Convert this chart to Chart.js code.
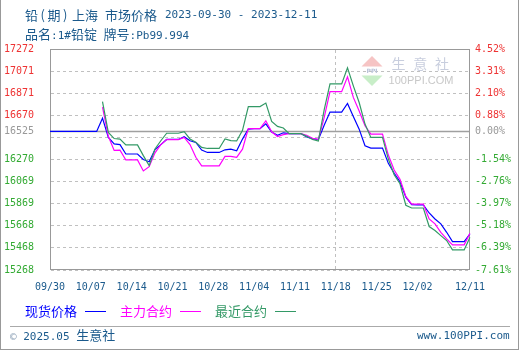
<!DOCTYPE html>
<html>
<head>
<meta charset="utf-8">
<title>铅(期) 上海 市场价格</title>
<script src="https://cdn.jsdelivr.net/npm/chart.js@4.4.0/dist/chart.umd.min.js"></script>
<style>
  html, body { margin: 0; padding: 0; background: #fff; }
  #wrap { position: relative; width: 520px; height: 350px; overflow: hidden; }
  #frame { position: absolute; left: 0; top: 0; width: 517px; height: 349px; border: 1px solid #999; border-top: none; }
  #chart { position: absolute; left: 0; top: 0; }
  .txt { position: absolute; white-space: nowrap; line-height: 16px; color: #1b5a8c;
         font-family: 'DejaVu Sans Mono', monospace; font-size: 11px; }
  .cjk { font-family: 'Noto Sans CJK SC', sans-serif; font-size: 13px; }
  .key { position: absolute; height: 1px; width: 21px; top: 311px; }
  #sep { position: absolute; left: 10px; top: 326px; width: 500px; height: 1px; background: #aaa; }
</style>
</head>
<body>
<div id="wrap">
  <div id="frame"></div>
  <canvas id="chart" width="520" height="350"></canvas>

  <div class="txt cjk" style="left:25px; top:7px; letter-spacing:2.5px;">铅(期)</div>
  <div class="txt cjk" style="left:72px; top:7px;">上海</div>
  <div class="txt cjk" style="left:105px; top:7px;">市场价格</div>
  <div class="txt" style="left:165px; top:7px;">2023-09-30 - 2023-12-11</div>
  <div class="txt" style="left:25px; top:26px;"><span class="cjk">品名</span>:1#<span class="cjk">铅锭</span> <span class="cjk">牌号</span>:Pb99.994</div>

  <!-- legend: name first, then a short line sample -->
  <div class="txt cjk" style="left:25px; top:303px; color:#0000ff;">现货价格</div>
  <div class="key" style="left:85px; background:#0000ff;"></div>
  <div class="txt cjk" style="left:120px; top:303px; color:#ff00ff;">主力合约</div>
  <div class="key" style="left:180px; background:#ff00ff;"></div>
  <div class="txt cjk" style="left:215px; top:303px; color:#339966;">最近合约</div>
  <div class="key" style="left:275px; background:#339966;"></div>

  <div id="sep"></div>
  <div class="txt" style="left:10px; top:327px;"><span style="color:#8fa3b8;">©</span> 2025.05 <span class="cjk">生意社</span></div>
  <div class="txt" style="left:417px; top:328px;">www.100PPI.com</div>
</div>

<script>
// price axis range and labels (top to bottom); row 4 sits on the base price
const yMin = 15268;
const yMax = 17272;
const basePrice = 16525;
const priceLabels = ['17272', '17071', '16871', '16670', '16525', '16270', '16069', '15869', '15668', '15468', '15268'];
const pctLabels = ['4.52%', '3.31%', '2.10%', '0.88%', '0.00%', '-1.54%', '-2.76%', '-3.97%', '-5.18%', '-6.39%', '-7.61%'];
const baseRow = 4;

// one category per calendar day, 2023-09-30 .. 2023-12-11
const days = [];
for (let i = 0; i <= 72; i++) {
    const d = new Date(2023, 8, 30 + i);
    days.push(String(d.getMonth() + 1).padStart(2, '0') + '/' + String(d.getDate()).padStart(2, '0'));
}

// 现货价格 (spot)
const spotPrice = [
    16525, 16525, 16525, 16525, 16525, 16525, 16525, 16525, 16525, 16645,
    16470, 16411, 16405, 16320, 16320, 16320, 16270, 16250, 16360, 16405,
    16452, 16452, 16452, 16477, 16440, 16425, 16355, 16334, 16334, 16334,
    16358, 16364, 16349, 16455, 16546, 16550, 16550, 16593, 16520, 16490,
    16512, 16505, 16505, 16505, 16475, 16460, 16450, 16580, 16700, 16700,
    16700, 16778, 16660, 16545, 16395, 16374, 16374, 16374, 16235, 16145,
    16068, 15928, 15860, 15858, 15858, 15785, 15731, 15686, 15610, 15526,
    15526, 15526, 15595
];

// 主力合约 (main contract)
const mainContract = [
    null, null, null, null, null, null, null, null, null, 16745,
    16480, 16352, 16355, 16266, 16266, 16266, 16166, 16205, 16330, 16405,
    16450, 16450, 16450, 16470, 16405, 16290, 16213, 16213, 16213, 16213,
    16298, 16298, 16289, 16364, 16550, 16550, 16550, 16621, 16521, 16478,
    16495, 16505, 16505, 16505, 16490, 16462, 16452, 16650, 16885, 16885,
    16885, 17020, 16833, 16710, 16576, 16500, 16500, 16500, 16310, 16175,
    16090, 15935, 15866, 15866, 15866, 15731, 15686, 15610, 15550, 15496,
    15496, 15496, 15601
];

// 最近合约 (nearest contract)
const nearContract = [
    null, null, null, null, null, null, null, null, null, 16794,
    16515, 16460, 16455, 16402, 16402, 16402, 16305, 16214, 16365, 16440,
    16508, 16508, 16508, 16522, 16456, 16426, 16380, 16370, 16370, 16370,
    16456, 16441, 16438, 16535, 16750, 16750, 16750, 16782, 16616, 16570,
    16556, 16505, 16505, 16505, 16480, 16452, 16437, 16720, 16955, 16955,
    16955, 17102, 16938, 16787, 16591, 16470, 16470, 16470, 16274, 16132,
    16050, 15855, 15830, 15830, 15830, 15662, 15626, 15580, 15535, 15450,
    15450, 15450, 15565
];

const labelFont = { family: 'DejaVu Sans Mono', size: 10 };
const gridColor = '#c0c0c0';

function rowColor(row) {
    if (row < baseRow) return '#ee3333';
    if (row === baseRow) return '#999999';
    return '#33aa33';
}

// weekly date labels, plus the last day
function isDateTick(index) {
    return index === days.length - 1 || (index % 7 === 0 && index <= 63);
}

// evenly spaced ticks, ascending, one per label row
function buildRows(scale) {
    const step = (yMax - yMin) / (priceLabels.length - 1);
    scale.ticks = priceLabels.map((_, i) => ({ value: yMin + i * step }));
}

// dashes laid down as 1px rects: 3 on, 3 off
function dashH(ctx, x1, x2, y) {
    for (let x = x1; x < x2; x += 6) ctx.fillRect(x, y, Math.min(3, x2 - x), 1);
}
function dashV(ctx, x, y1, y2) {
    for (let y = y1; y < y2; y += 6) ctx.fillRect(x, y, 1, Math.min(3, y2 - y));
}

// dashed grid, base line, plot frame, watermark and the labels on the base price
const overlay = {
    id: 'overlay',
    beforeDatasetsDraw(chart) {
        const { ctx, chartArea: a, scales } = chart;
        ctx.save();

        // grid from the scales' own ticks
        ctx.fillStyle = gridColor;
        scales.y.ticks.forEach(t => {
            const py = Math.floor(scales.y.getPixelForValue(t.value));
            dashH(ctx, a.left + 1, a.right - 1, py);
        });
        scales.x.ticks.forEach((t, i) => {
            if (!isDateTick(i)) return;
            const px = Math.floor(scales.x.getPixelForTick(i));
            dashV(ctx, px, a.top + 1, a.bottom - 1);
        });

        // watermark logo
        ctx.fillStyle = '#f6c4c4';
        ctx.beginPath();
        ctx.moveTo(372, 56); ctx.lineTo(382.5, 66.5); ctx.lineTo(361.5, 66.5);
        ctx.fill();
        ctx.fillStyle = '#c8eec8';
        ctx.beginPath();
        ctx.moveTo(361.5, 75.5); ctx.lineTo(382.5, 75.5); ctx.lineTo(372, 86);
        ctx.fill();
        ctx.fillStyle = '#b9c2d8';
        ctx.font = 'bold 6px "DejaVu Sans"';
        ctx.textAlign = 'center';
        ctx.textBaseline = 'middle';
        ctx.fillText('PPI', 372, 71.5);
        ctx.fillStyle = '#c8cede';
        ctx.font = '14px "Noto Sans CJK SC"';
        ['生', '意', '社'].forEach((ch, i) => ctx.fillText(ch, 398.5 + i * 21.7, 64));
        ctx.fillStyle = '#c8c8c8';
        ctx.font = '11px "Liberation Sans"';
        ctx.fillText('100PPI.COM', 421, 81);

        // base price line
        const yb = Math.round(scales.y.getPixelForValue(basePrice)) + 0.5;
        ctx.strokeStyle = '#a0a0a0';
        ctx.lineWidth = 1.5;
        ctx.beginPath();
        ctx.moveTo(a.left, yb);
        ctx.lineTo(a.right, yb);
        ctx.stroke();

        // frame round the plot
        ctx.strokeStyle = '#999999';
        ctx.lineWidth = 1;
        ctx.strokeRect(a.left + 0.5, a.top + 0.5, a.width - 1, a.height - 1);
        ctx.restore();
    },
    afterDraw(chart) {
        const { ctx, chartArea: a, scales } = chart;
        const yb = scales.y.getPixelForValue(basePrice);
        ctx.save();
        ctx.font = '10px "DejaVu Sans Mono"';
        ctx.fillStyle = rowColor(baseRow);
        ctx.textBaseline = 'middle';
        ctx.textAlign = 'right';
        ctx.fillText(priceLabels[baseRow], a.left - 16, yb);
        ctx.textAlign = 'left';
        ctx.fillText(pctLabels[baseRow], a.right + 5, yb);
        ctx.restore();
    }
};

const ctx = document.getElementById('chart').getContext('2d');
const priceChart = new Chart(ctx, {
    type: 'line',
    data: {
        labels: days,
        datasets: [
            { label: '现货价格', data: spotPrice, borderColor: '#0000ff', order: 2 },
            { label: '主力合约', data: mainContract, borderColor: '#ff00ff', order: 1 },
            { label: '最近合约', data: nearContract, borderColor: '#339966', order: 0 }
        ]
    },
    options: {
        responsive: false,
        animation: false,
        devicePixelRatio: 1,
        layout: { padding: { top: 49, left: 0, right: 0, bottom: 0 } },
        elements: {
            line: { borderWidth: 1.2, tension: 0, fill: false },
            point: { radius: 0 }
        },
        plugins: {
            legend: { display: false },
            tooltip: { enabled: false }
        },
        scales: {
            x: {
                grid: { display: false, drawTicks: false },
                border: { display: false },
                ticks: {
                    autoSkip: false,
                    maxRotation: 0,
                    padding: 11,
                    color: '#1b5a8c',
                    font: labelFont,
                    callback: (value, index) => isDateTick(index) ? days[index] : null
                },
                afterFit: scale => { scale.height = 80; }
            },
            y: {
                position: 'left',
                min: yMin,
                max: yMax,
                afterBuildTicks: buildRows,
                grid: { display: false, drawTicks: false },
                border: { display: false },
                ticks: {
                    padding: 16,
                    font: labelFont,
                    color: c => rowColor(priceLabels.length - 1 - c.index),
                    callback: (value, index) => {
                        const row = priceLabels.length - 1 - index;
                        return row === baseRow ? '' : priceLabels[row];
                    }
                },
                afterFit: scale => { scale.width = 50; }
            },
            y2: {
                position: 'right',
                min: yMin,
                max: yMax,
                afterBuildTicks: buildRows,
                grid: { display: false, drawTicks: false },
                border: { display: false },
                ticks: {
                    padding: 5,
                    font: labelFont,
                    color: c => rowColor(pctLabels.length - 1 - c.index),
                    callback: (value, index) => {
                        const row = pctLabels.length - 1 - index;
                        return row === baseRow ? '' : pctLabels[row];
                    }
                },
                afterFit: scale => { scale.width = 50; }
            }
        }
    },
    plugins: [overlay]
});
</script>
</body>
</html>
